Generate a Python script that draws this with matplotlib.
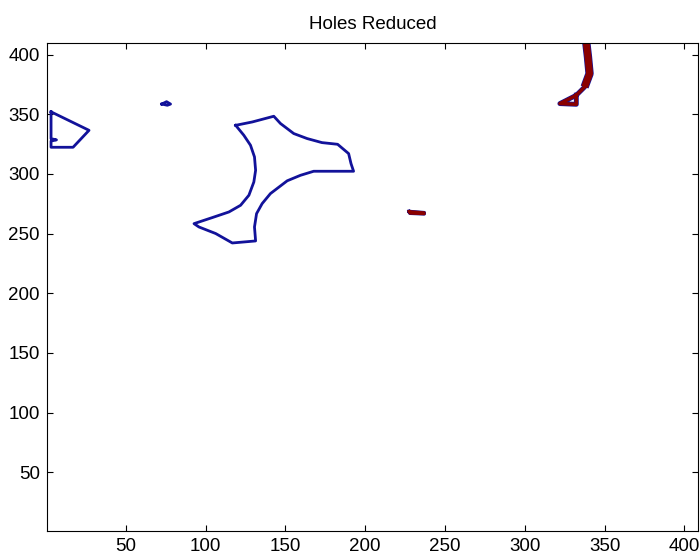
import matplotlib.pyplot as plt

plt.rcParams['font.family'] = ['Liberation Sans', 'DejaVu Sans']

# hole boundaries (blue), in image coordinates
quad_x = [3.1, 26.9, 16.9, 3.1, 3.1, 6.5, 3.1, 3.1]
quad_y = [352, 336.5, 322.3, 322.3, 327.5, 328.5, 329.5, 352]

blob_x = [72.5, 75.5, 78, 76, 72.5]
blob_y = [358.5, 360.5, 358.5, 357.5, 358.5]

star_x = [118.8, 129.2, 142.7, 146.9, 155.2, 163.6, 172.9, 182.7, 189.6, 191.1,
          192.7, 167.7, 159.4, 151.1, 140.6, 135.4, 131.9, 130.6, 131.3, 116.7,
          106.3, 95.8, 92.7, 104.2, 114.6, 121.9, 127.1, 130.2, 131.3, 130.6,
          128.1, 123.9, 118.8]
star_y = [340.7, 343.5, 348.3, 342.2, 333.8, 329.6, 326.2, 324.8, 317.0, 308.6,
          302.2, 302.2, 298.8, 294.2, 283.5, 275.1, 266.7, 255.5, 243.8, 242.1,
          250.0, 255.5, 258.3, 263.4, 268.1, 273.7, 282.1, 293.2, 303.0, 314.2,
          324.0, 332.4, 340.7]

# reduced holes (red)
sliver_x = [227.5, 237, 237, 228, 227.5]
sliver_y = [268.5, 267.5, 266.5, 267, 268.5]

crack_x = [338.6, 339.6, 340.6, 337.5, 332.3, 322.0, 332.3, 332.3]
crack_y = [409.5, 398.0, 384.0, 372.8, 365.9, 358.9, 358.3, 366.0]

blue = '#12129a'
red = '#8a0000'

fig = plt.figure(figsize=(7, 5.54), dpi=100)
ax = fig.add_axes([0.067, 0.041, 0.930, 0.881])

ax.plot(quad_x, quad_y, color=blue, lw=2)
ax.plot(blob_x, blob_y, color=blue, lw=2)
ax.plot(star_x, star_y, color=blue, lw=2)

ax.plot(sliver_x, sliver_y, color=blue, lw=2.5)
ax.plot(sliver_x, sliver_y, color=red, lw=2)
ax.plot(crack_x[:4], crack_y[:4], color=blue, lw=6, solid_capstyle='butt')
ax.plot(crack_x, crack_y, color=blue, lw=3.5)
ax.plot(crack_x[:4], crack_y[:4], color=red, lw=5, solid_capstyle='butt')
ax.plot(crack_x, crack_y, color=red, lw=2.5)

ax.set_xlim(0.5, 408.5)
ax.set_ylim(0.5, 409.5)
ax.set_xticks(range(50, 401, 50))
ax.set_yticks(range(50, 401, 50))
ax.tick_params(direction='in', length=4, top=True, right=True, labelsize=13.5)
ax.tick_params(axis='y', pad=5)
ax.tick_params(axis='x', pad=5)
ax.set_title('Holes Reduced', fontsize=13.5, pad=10)

fig.savefig('out.png')
